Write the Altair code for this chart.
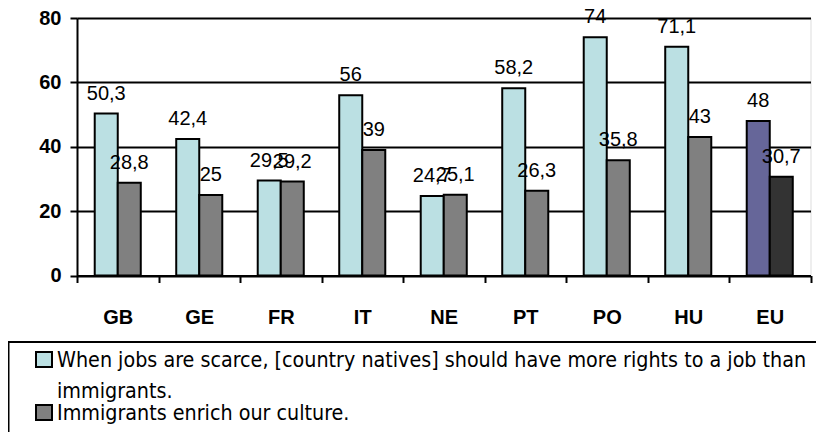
import altair as alt
import pandas as pd

countries = ["GB", "GE", "FR", "IT", "NE", "PT", "PO", "HU", "EU"]
jobs_scarce = [50.3, 42.4, 29.5, 56, 24.7, 58.2, 74, 71.1, 48]
enrich_culture = [28.8, 25, 29.2, 39, 25.1, 26.3, 35.8, 43, 30.7]
legend_lines = [
    "When jobs are scarce, [country natives] should have more rights to a job than",
    "immigrants.",
    "Immigrants enrich our culture.",
]
y_ticks = [0, 20, 40, 60, 80]


def fmt(v):
    s = ("%g" % v)
    return s.replace(".", ",")


rows = []
for c, a, b in zip(countries, jobs_scarce, enrich_culture):
    eu = c == "EU"
    rows.append({"country": c, "series": "s1", "value": a, "label": fmt(a),
                 "ckey": "eu1" if eu else "s1"})
    rows.append({"country": c, "series": "s2", "value": b, "label": fmt(b),
                 "ckey": "eu2" if eu else "s2"})
df = pd.DataFrame(rows)

W, H = 733.5, 257.5

x = alt.X("country:N", sort=countries, title=None,
          scale=alt.Scale(paddingInner=0, paddingOuter=0),
          axis=alt.Axis(labelAngle=0, labelFont="Liberation Sans", labelFontSize=20,
                        labelFontWeight="bold", labelColor="black", labelPadding=25,
                        tickBand="extent", tickSize=7, tickWidth=2, tickColor="black",
                        domainColor="black", domainWidth=2, grid=False))
xo = alt.XOffset("series:N", sort=["s1", "s2"],
                 scale=alt.Scale(paddingOuter=0.77, paddingInner=0))
y = alt.Y("value:Q", title=None,
          scale=alt.Scale(domain=[0, 80], nice=False),
          axis=alt.Axis(values=y_ticks, labelFont="Liberation Sans", labelFontSize=20,
                        labelFontWeight="bold", labelColor="black", labelPadding=9,
                        tickSize=7, tickWidth=2, tickColor="black",
                        domainColor="black", domainWidth=2,
                        grid=True, gridColor="black", gridWidth=2, gridOpacity=1))

base = alt.Chart(df)
bars = base.mark_bar(stroke="black", strokeWidth=2).encode(
    x=x, xOffset=xo, y=y,
    color=alt.Color("ckey:N", legend=None,
                    scale=alt.Scale(domain=["s1", "s2", "eu1", "eu2"],
                                    range=["#BBE0E3", "#808080", "#666699", "#333333"])),
)
labels = base.mark_text(font="Liberation Sans", fontSize=20, color="black",
                        baseline="alphabetic", dy=-14).encode(
    x=x, xOffset=xo, y=y, text="label:N")

# legend (drawn by hand below the plot)
box_df = pd.DataFrame({"k": [0]})
box = alt.Chart(box_df).mark_rect(fill="white", fillOpacity=0, stroke="black",
                                  strokeWidth=2).encode(
    x=alt.value(-68.5), x2=alt.value(790), y=alt.value(324), y2=alt.value(440))

sq_df = pd.DataFrame({"k": ["s1", "s2"]})
sq1 = alt.Chart(sq_df).transform_filter("datum.k == 's1'").mark_rect(
    fill="#BBE0E3", stroke="black", strokeWidth=2).encode(
    x=alt.value(-41), x2=alt.value(-25), y=alt.value(334), y2=alt.value(349))
sq2 = alt.Chart(sq_df).transform_filter("datum.k == 's2'").mark_rect(
    fill="#808080", stroke="black", strokeWidth=2).encode(
    x=alt.value(-41), x2=alt.value(-25), y=alt.value(387), y2=alt.value(402))

leg_df = pd.DataFrame({"t": legend_lines, "i": [0, 1, 2]})
leg_font = "Liberation Sans Narrow, Arial Narrow, DejaVu Sans Condensed, sans-serif"
leg_y = [349, 380, 402]
leg_text = []
for i in range(3):
    leg_text.append(
        alt.Chart(leg_df).transform_filter(f"datum.i == {i}").mark_text(
            font=leg_font, fontSize=21.3, color="black", align="left",
            baseline="alphabetic").encode(
            x=alt.value(-20), y=alt.value(leg_y[i]), text="t:N"))

chart = alt.layer(bars, labels, box, sq1, sq2, *leg_text).properties(
    width=W, height=H,
    autosize=alt.AutoSizeParams(type="none"),
    padding={"left": 69, "top": 10, "right": 5.5, "bottom": 156.5},
).configure_view(stroke="black", strokeWidth=2).configure(background="white")

chart.save("out.html", embed_options={"renderer": "svg", "actions": False})
